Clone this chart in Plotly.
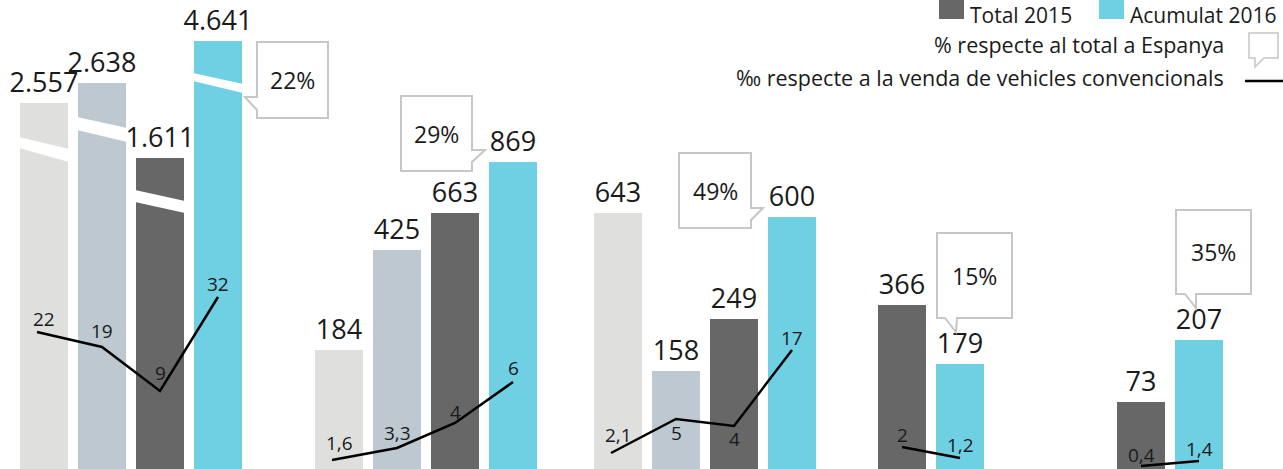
import plotly.graph_objects as go

# ---------------- data ----------------
# five groups (regions); four series per group (two older years, Total 2015, Acumulat 2016)
series_names = ["Total 2013", "Total 2014", "Total 2015", "Acumulat 2016"]
series_colors = ["#dfe0de", "#bec8d1", "#676767", "#6fcfe3"]

# sold vehicles (printed labels)
values_2013 = [2557, 184, 643, None, None]
values_2014 = [2638, 425, 158, None, None]
values_2015 = [1611, 663, 249, 366, 73]
values_2016 = [4641, 869, 600, 179, 207]

# bar heights as drawn in the (not to scale) infographic
drawn_2013 = [366, 119, 256, None, None]
drawn_2014 = [386, 219, 98, None, None]
drawn_2015 = [311, 256, 150, 164, 67]
drawn_2016 = [428, 307, 252, 105, 129]

# ‰ respecte a la venda de vehicles convencionals
permille_2013 = [22, 1.6, 2.1, None, None]
permille_2014 = [19, 3.3, 5, None, None]
permille_2015 = [9, 4, 4, 2, 0.4]
permille_2016 = [32, 6, 17, 1.2, 1.4]

# level at which the ‰ line is drawn in the infographic
permille_level_2013 = [137, 9, 16, None, None]
permille_level_2014 = [122, 21, 50, None, None]
permille_level_2015 = [78, 46, 43, 22, 3]
permille_level_2016 = [172, 87, 119, 11, 8]

# % respecte al total a Espanya (2016)
pct_spain = [22, 29, 49, 15, 35]

# ---------------- layout constants ----------------
W, H = 1283, 469
group_start = [44, 339, 618, 786, 1025]
slot_step = 58
bar_w = 48
line_start_dx = -7          # the ‰ line starts a little left of the first bar centre
# vertical offset (px) of each ‰ label from its vertex, per (group, series)
label_shift = {
    (0, 0): 13, (0, 1): 16, (0, 2): 18, (0, 3): 13,
    (1, 0): 17, (1, 1): 15, (1, 2): 11, (1, 3): 14,
    (2, 0): 18, (2, 1): -14, (2, 2): -13, (2, 3): 12,
    (3, 2): 12, (3, 3): 13,
    (4, 2): 11, (4, 3): 12,
}

values = [values_2013, values_2014, values_2015, values_2016]
drawn = [drawn_2013, drawn_2014, drawn_2015, drawn_2016]
permille = [permille_2013, permille_2014, permille_2015, permille_2016]
permille_lvl = [permille_level_2013, permille_level_2014, permille_level_2015, permille_level_2016]

TXT = "#1a1a1a"
FONT = "Open Sans"


def fmt_thousands(v):
    return f"{v:,}".replace(",", ".")


def fmt_dec(v):
    return f"{v:g}".replace(".", ",")


def Y(px):
    return H - px


fig = go.Figure()

for s in range(4):
    xs, ys, txt = [], [], []
    for g in range(5):
        if values[s][g] is None:
            continue
        xs.append(group_start[g] + s * slot_step)
        ys.append(drawn[s][g])
        txt.append(fmt_thousands(values[s][g]))
    fig.add_trace(go.Bar(
        x=xs, y=ys, width=bar_w, name=series_names[s],
        marker=dict(color=series_colors[s], line=dict(width=0)),
        text=txt, textposition="outside", constraintext="none", cliponaxis=False,
        textfont=dict(family=FONT, size=27, color=TXT),
        showlegend=False, hoverinfo="skip",
    ))

annotations = []

# ‰ lines, one per group; labels as annotations above (or below) each vertex
for g in range(5):
    xs, ys = [], []
    first = True
    for s in range(4):
        if permille[s][g] is None:
            continue
        x = group_start[g] + s * slot_step
        y = permille_lvl[s][g]
        xs.append(x + (line_start_dx if (first and g < 3) else 0))
        ys.append(y)
        first = False
        annotations.append(dict(
            x=x, y=y, xref="x", yref="y", text=fmt_dec(permille[s][g]), showarrow=False,
            yshift=label_shift.get((g, s), 14), xanchor="center", yanchor="middle",
            font=dict(family=FONT, size=19, color=TXT),
        ))
    fig.add_trace(go.Scatter(
        x=xs, y=ys, mode="lines",
        line=dict(color="#000000", width=2.5),
        cliponaxis=False, showlegend=False, hoverinfo="skip",
    ))

shapes = []

# white breaks across the tall bars of the first group (left top, left bottom, right top, right bottom in px)
breaks = [(137, 148, 149, 162), (117, 130, 128, 142), (190, 202, 201, 213), (73, 81, 84, 93)]
for s, (lt, lb, rt, rb) in enumerate(breaks):
    x0 = group_start[0] + s * slot_step - bar_w / 2 - 1
    x1 = x0 + bar_w + 2
    shapes.append(dict(
        type="path", xref="x", yref="y",
        path=f"M {x0},{Y(lt)} L {x1},{Y(rt)} L {x1},{Y(rb)} L {x0},{Y(lb)} Z",
        fillcolor="white", line=dict(width=0), layer="above",
    ))

# speech bubbles: rectangle (x0, x1, top, bottom) + polygon vertices in px
bubbles = [
    ((257, 328, 42, 118), [(257, 42), (328, 42), (328, 118), (257, 118), (257, 110), (245, 97), (257, 97)]),
    ((401, 472, 96, 171), [(401, 96), (472, 96), (472, 150), (485, 150), (472, 162), (472, 171), (401, 171)]),
    ((679, 751, 153, 228), [(679, 153), (751, 153), (751, 208), (763, 208), (751, 220), (751, 228), (679, 228)]),
    ((937, 1012, 233, 318), [(937, 233), (1012, 233), (1012, 318), (957, 318), (956, 332), (945, 318), (937, 318)]),
    ((1176, 1251, 210, 294), [(1176, 210), (1251, 210), (1251, 294), (1196, 294), (1196, 308), (1185, 294), (1176, 294)]),
]
for g, (rect, pts) in enumerate(bubbles):
    path = "M " + " L ".join(f"{x},{Y(y)}" for x, y in pts) + " Z"
    shapes.append(dict(type="path", xref="x", yref="y", path=path,
                       fillcolor="white", line=dict(color="#c5c8c7", width=2)))
    cx = (rect[0] + rect[1]) / 2
    cy = (rect[2] + rect[3]) / 2
    annotations.append(dict(
        x=cx, y=Y(cy), xref="x", yref="y", text=f"{pct_spain[g]}%", showarrow=False,
        font=dict(family=FONT, size=23, color=TXT),
        xanchor="center", yanchor="middle",
    ))

# legend (drawn)
legend_items = [(939, "#676767", "Total 2015"), (1099, "#6fcfe3", "Acumulat 2016")]
for x0, col, label in legend_items:
    shapes.append(dict(type="rect", xref="x", yref="y", x0=x0, x1=x0 + 25, y0=Y(19), y1=Y(-2),
                       fillcolor=col, line=dict(width=0)))
    annotations.append(dict(x=x0 + 30, y=Y(0), xref="x", yref="y", text=label, showarrow=False,
                            xanchor="left", yanchor="top", borderpad=0,
                            font=dict(family=FONT, size=21, color=TXT)))

annotations.append(dict(x=1226, y=Y(44), xref="x", yref="y", text="% respecte al total a Espanya",
                        showarrow=False, xanchor="right", yanchor="middle",
                        font=dict(family=FONT, size=21.5, color=TXT)))
annotations.append(dict(x=1226, y=Y(77), xref="x", yref="y",
                        text="‰ respecte a la venda de vehicles convencionals",
                        showarrow=False, xanchor="right", yanchor="middle",
                        font=dict(family=FONT, size=21.5, color=TXT)))
icon = [(1249, 33), (1278, 33), (1278, 58), (1264, 58), (1255, 67), (1255, 58), (1249, 58)]
shapes.append(dict(type="path", xref="x", yref="y",
                   path="M " + " L ".join(f"{x},{Y(y)}" for x, y in icon) + " Z",
                   fillcolor="white", line=dict(color="#c5c8c7", width=1.5)))
shapes.append(dict(type="line", xref="x", yref="y", x0=1245, x1=1283, y0=Y(81), y1=Y(81),
                   line=dict(color="#000000", width=2.5)))

fig.update_layout(
    width=W, height=H, autosize=False,
    margin=dict(l=0, r=0, t=0, b=0, pad=0),
    paper_bgcolor="white", plot_bgcolor="white",
    barmode="overlay", bargap=0,
    xaxis=dict(range=[0, W], visible=False, fixedrange=True),
    yaxis=dict(range=[0, H], visible=False, fixedrange=True),
    shapes=shapes, annotations=annotations,
    font=dict(family=FONT),
)

fig.write_html(
    "out.html",
    config={"displayModeBar": False},
    post_script="document.body.style.margin='0';document.body.style.overflow='hidden';",
)
